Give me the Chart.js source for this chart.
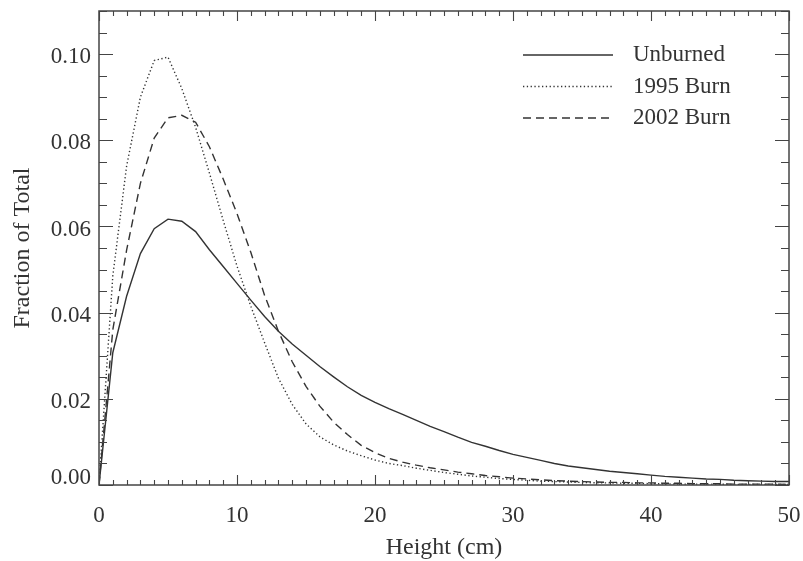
<!DOCTYPE html>
<html>
<head>
<meta charset="utf-8">
<script src="https://cdn.jsdelivr.net/npm/chart.js@4.4.1/dist/chart.umd.min.js"></script>
<style>
html,body{margin:0;padding:0;background:#fff;}
canvas{display:block;}
</style>
</head>
<body>
<canvas id="c" width="803" height="561"></canvas>
<script>
// ---- data ----
const heights = [0,1,2,3,4,5,6,7,8,9,10,11,12,13,14,15,16,17,18,19,20,21,22,23,24,25,26,27,28,29,30,31,32,33,34,35,36,37,38,39,40,41,42,43,44,45,46,47,48,49,50];
const unburned = [0,0.0307,0.0438,0.0537,0.0595,0.0617,0.0612,0.0588,0.0546,0.0507,0.0468,0.0429,0.0391,0.0357,0.0327,0.0301,0.0275,0.0251,0.0228,0.0208,0.0192,0.0177,0.0164,0.0150,0.0136,0.0124,0.0111,0.0099,0.0090,0.0080,0.0071,0.0064,0.0057,0.0050,0.0044,0.0040,0.0036,0.0032,0.0029,0.0026,0.0023,0.0020,0.0018,0.0016,0.0014,0.0013,0.0011,0.0010,0.0009,0.0008,0.0008];
const burn1995 = [0,0.0485,0.0740,0.0900,0.0985,0.0993,0.0920,0.0830,0.0724,0.0614,0.0508,0.0415,0.0330,0.0248,0.0187,0.0142,0.0112,0.0093,0.0079,0.0068,0.0058,0.0050,0.0045,0.0039,0.0034,0.0029,0.0025,0.0021,0.0018,0.0015,0.0013,0.0011,0.0009,0.0008,0.0007,0.0006,0.0005,0.0005,0.0004,0.0004,0.0003,0.0003,0.0002,0.0002,0.0002,0.0002,0.0001,0.0001,0.0001,0.0001,0.0001];
const burn2002 = [0,0.0360,0.0545,0.0700,0.0805,0.0852,0.0858,0.0842,0.0785,0.0710,0.0630,0.0540,0.0440,0.0357,0.0286,0.0229,0.0183,0.0146,0.0117,0.0092,0.0075,0.0062,0.0053,0.0046,0.0040,0.0035,0.0030,0.0026,0.0022,0.0019,0.0016,0.0014,0.0012,0.0010,0.0009,0.0008,0.0007,0.0006,0.0006,0.0005,0.0005,0.0004,0.0004,0.0003,0.0003,0.0003,0.0002,0.0002,0.0002,0.0002,0.0001];
const seriesLabels = ['Unburned','1995 Burn','2002 Burn'];
const xTickValues = [0,10,20,30,40,50];
const xTickLabels = ['0','10','20','30','40','50'];
const yTickValues = [0,0.02,0.04,0.06,0.08,0.10];
const yTickLabels = ['0.00','0.02','0.04','0.06','0.08','0.10'];
const xTitle = 'Height (cm)';
const yTitle = 'Fraction of Total';

// ---- styling ----
const INK = '#333333';
const AXIS = '#444444';
const FONT_TICK = '23px "Liberation Serif", "Times New Roman", serif';
const FONT_TITLE = '24px "Liberation Serif", "Times New Roman", serif';

function pts(vals){ return heights.map((h,i)=>({x:h,y:vals[i]})); }

const framePlugin = {
  id:'frame',
  afterDatasetsDraw(chart){
    const {ctx, chartArea:a, scales:{x,y}} = chart;
    ctx.save();
    // box
    ctx.strokeStyle = AXIS;
    ctx.lineWidth = 1.5;
    ctx.strokeRect(a.left, a.top, a.right-a.left, a.bottom-a.top);
    // x ticks (inward, top & bottom), minor every 1, major every 10
    ctx.lineWidth = 1.1;
    ctx.beginPath();
    for(let i=0;i<=50;i++){
      const px = Math.round(x.getPixelForValue(i))+0.5;
      const len = (i%10===0)?10:5;
      ctx.moveTo(px,a.bottom); ctx.lineTo(px,a.bottom-len);
      ctx.moveTo(px,a.top); ctx.lineTo(px,a.top+len);
    }
    // y ticks, minor every 0.005, major every 0.02
    for(let i=0;i<=22;i++){
      const py = Math.round(y.getPixelForValue(i*0.005))+0.5;
      const len = (i%4===0)?14:8;
      ctx.moveTo(a.left,py); ctx.lineTo(a.left+len,py);
      ctx.moveTo(a.right,py); ctx.lineTo(a.right-len,py);
    }
    ctx.stroke();
    // tick labels
    ctx.fillStyle = INK;
    ctx.font = FONT_TICK;
    ctx.textAlign = 'center';
    ctx.textBaseline = 'middle';
    xTickValues.forEach((v,i)=>{
      ctx.fillText(xTickLabels[i], x.getPixelForValue(v), a.bottom+31);
    });
    ctx.textAlign = 'right';
    yTickValues.forEach((v,i)=>{
      const off = (v===0)? -7 : 3;
      ctx.fillText(yTickLabels[i], a.left-8, y.getPixelForValue(v)+off);
    });
    // titles
    ctx.font = FONT_TITLE;
    ctx.textAlign = 'center';
    ctx.fillText(xTitle, (a.left+a.right)/2, a.bottom+63);
    ctx.save();
    ctx.translate(23,(a.top+a.bottom)/2);
    ctx.rotate(-Math.PI/2);
    ctx.fillText(yTitle,0,0);
    ctx.restore();
    // legend
    ctx.font = FONT_TICK;
    ctx.textAlign = 'left';
    chart.data.datasets.forEach((ds,i)=>{
      const ly = a.top + 44 + i*31.5;
      ctx.save();
      ctx.strokeStyle = ds.borderColor;
      ctx.lineWidth = ds.borderWidth;
      ctx.setLineDash(ds.borderDash||[]);
      ctx.beginPath();
      ctx.moveTo(a.left+424, ly); ctx.lineTo(a.left+514, ly);
      ctx.stroke();
      ctx.restore();
      ctx.fillStyle = INK;
      ctx.fillText(ds.label, a.left+534, ly);
    });
    ctx.restore();
  }
};

new Chart(document.getElementById('c'), {
  type:'line',
  data:{
    datasets:[
      {label:seriesLabels[0], data:pts(unburned), borderColor:INK, borderWidth:1.4, borderDash:[], pointRadius:0, tension:0, fill:false},
      {label:seriesLabels[1], data:pts(burn1995), borderColor:INK, borderWidth:1.4, borderDash:[1.3,2.5], pointRadius:0, tension:0, fill:false},
      {label:seriesLabels[2], data:pts(burn2002), borderColor:INK, borderWidth:1.4, borderDash:[8,5], pointRadius:0, tension:0, fill:false}
    ]
  },
  options:{
    responsive:false,
    animation:false,
    devicePixelRatio:1,
    layout:{padding:{left:99,right:14,top:11,bottom:76}},
    plugins:{legend:{display:false},tooltip:{enabled:false},title:{display:false}},
    scales:{
      x:{type:'linear',min:0,max:50,display:false},
      y:{type:'linear',min:0,max:0.11,display:false}
    }
  },
  plugins:[framePlugin]
});
</script>
</body>
</html>
